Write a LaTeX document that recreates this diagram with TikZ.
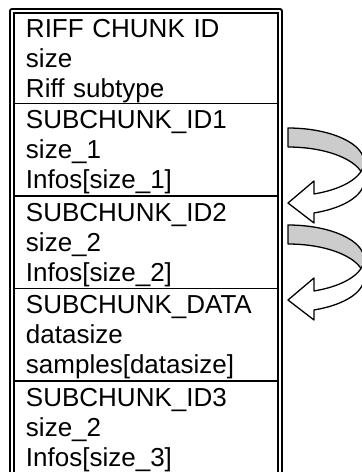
\documentclass[tikz,border=0pt]{standalone}
\usepackage{fontspec}
\setmainfont{Liberation Sans}
\usetikzlibrary{positioning}
% strut so that every line of a chunk sits on the same 30pt grid
\newcommand{\rowstrut}{\rule[-6.25pt]{0pt}{30pt}}
\newcommand{\chunklines}[3]{\rowstrut#1\\\rowstrut#2\\\rowstrut#3}

\begin{document}
\begin{tikzpicture}[
  x=1pt, y=-1pt,
  line join=round,
  every node/.style={font=\fontsize{26pt}{30pt}\selectfont},
  chunk/.style={draw, line width=1.9pt, rectangle, align=left, text width=240pt, inner xsep=12pt, inner ysep=0pt, outer sep=0pt, minimum height=92.5pt},
  frame/.style={draw, line width=2.2pt, double distance=1.8pt},
  backband/.style={draw, line width=1.3pt, fill=black!20},
  frontband/.style={draw, line width=1.3pt, fill=white}
]
  \useasboundingbox (0,0) rectangle (362,472);
  \clip (0,0) rectangle (362,472);

  % double frame round the whole file, open at the bottom
  \draw[frame] (12,11) rectangle (280,495);

  \node[chunk, anchor=north west, minimum height=90.5pt] (riffChunk) at (14,13)
    {\chunklines{RIFF CHUNK ID}{size}{Riff subtype}};
  \node[chunk, below=0pt of riffChunk] (subChunk1)
    {\chunklines{SUBCHUNK\_ID1}{size\_1}{Infos[size\_1]}};
  \node[chunk, below=0pt of subChunk1] (subChunk2)
    {\chunklines{SUBCHUNK\_ID2}{size\_2}{Infos[size\_2]}};
  \node[chunk, below=0pt of subChunk2] (dataChunk)
    {\chunklines{SUBCHUNK\_DATA}{datasize}{samples[datasize]}};
  \node[chunk, below=0pt of dataChunk] (subChunk3)
    {\chunklines{SUBCHUNK\_ID3}{size\_2}{Infos[size\_3]}};

  % curved "skip" arrows: back of the ribbon in grey, front with the head in white
  \foreach \dy in {0,97} {
    \begin{scope}[shift={(0,\dy)}]
      \draw[backband] plot[domain=90:0, samples=30] ({288+76*cos(\x)}, {162-34*sin(\x)})
        -- plot[domain=0:90, samples=30] ({288+76*cos(\x)}, {181-34*sin(\x)}) -- cycle;
      \draw[frontband] plot[domain=0:-70, samples=30] ({288+76*cos(\x)}, {162-34*sin(\x)})
        -- (314,181) -- (288,203) -- (314,223)
        -- plot[domain=-70:0, samples=30] ({288+76*cos(\x)}, {181-34*sin(\x)}) -- cycle;
    \end{scope}
  }
\end{tikzpicture}
\end{document}
